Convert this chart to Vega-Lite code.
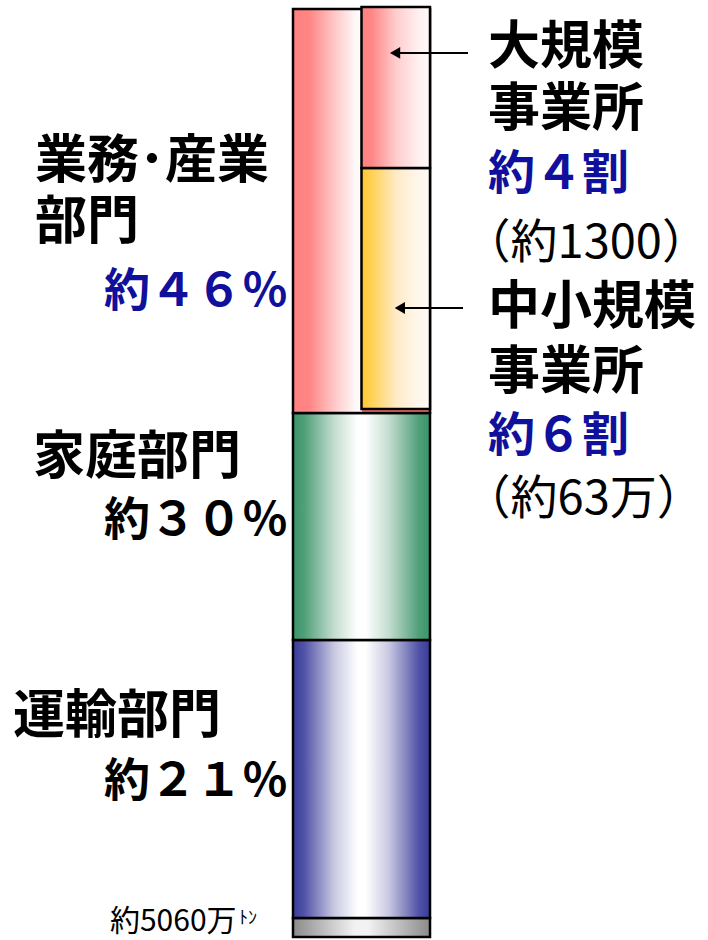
{
  "$schema": "https://vega.github.io/schema/vega-lite/v6.json",
  "width": 708,
  "height": 940,
  "autosize": {"type": "none"},
  "padding": 0,
  "background": "white",
  "config": {"view": {"stroke": null}, "text": {"font": "Noto Sans CJK JP"}},
  "datasets": {
    "segments": [
      {"part": "その他", "xa": 0, "xb": 2, "ya": 0, "yb": 2.05},
      {"part": "運輸部門", "xa": 0, "xb": 2, "ya": 2.05, "yb": 31.97},
      {"part": "家庭部門", "xa": 0, "xb": 2, "ya": 31.97, "yb": 56.4},
      {"part": "業務・産業部門", "xa": 0, "xb": 2, "ya": 56.4, "yb": 99.9},
      {"part": "中小規模事業所", "xa": 1, "xb": 2, "ya": 56.84, "yb": 82.78},
      {"part": "大規模事業所", "xa": 1, "xb": 2, "ya": 82.78, "yb": 100.1}
    ],
    "arrows": [
      {"target": "大規模事業所", "xa": 2.555, "xb": 1.49, "ya": 95.16},
      {"target": "中小規模事業所", "xa": 2.482, "xb": 1.56, "ya": 67.71}
    ],
    "labels": [
      {"kind": "name", "text": "業務･産業", "xa": -3.766, "ya": 83.42},
      {"kind": "name", "text": "部門", "xa": -3.766, "ya": 76.86},
      {"kind": "share_l", "text": "約４６％", "xa": -0.073, "ya": 69.43},
      {"kind": "name", "text": "家庭部門", "xa": -3.796, "ya": 51.56},
      {"kind": "share_l2", "text": "約３０％", "xa": -0.073, "ya": 44.78},
      {"kind": "name", "text": "運輸部門", "xa": -4.088, "ya": 23.68},
      {"kind": "share_l2", "text": "約２１％", "xa": -0.073, "ya": 16.68},
      {"kind": "name", "text": "大規模", "xa": 2.847, "ya": 95.69},
      {"kind": "name", "text": "事業所", "xa": 2.847, "ya": 89.02},
      {"kind": "share_r", "text": "約４割", "xa": 2.847, "ya": 82.02},
      {"kind": "count", "text": "（約1300）", "xa": 2.49, "ya": 74.6},
      {"kind": "name", "text": "中小規模", "xa": 2.847, "ya": 67.71},
      {"kind": "name", "text": "事業所", "xa": 2.847, "ya": 60.71},
      {"kind": "share_r", "text": "約６割", "xa": 2.847, "ya": 53.82},
      {"kind": "count", "text": "（約63万）", "xa": 2.49, "ya": 47.04},
      {"kind": "total", "text": "約5060万", "xa": -2.672, "ya": 1.61},
      {"kind": "unit", "text": "ﾄﾝ", "xa": -0.79, "ya": 1.94}
    ]
  },
  "encoding": {
    "x": {"field": "xa", "type": "quantitative", "scale": {"domain": [-4.277, 6.058], "nice": false, "zero": false}, "axis": null},
    "y": {"field": "ya", "type": "quantitative", "scale": {"domain": [-0.323, 100.86], "nice": false, "zero": false}, "axis": null}
  },
  "layer": [
    {
      "data": {"name": "segments"},
      "transform": [{"filter": "datum.part === 'その他'"}],
      "mark": {"type": "rect", "stroke": "black", "strokeWidth": 2.5,
        "fill": {"gradient": "linear", "x1": 0, "y1": 0, "x2": 1, "y2": 0, "stops": [
          {"offset": 0, "color": "#8a8a8a"}, {"offset": 0.45, "color": "#f2f2f2"}, {"offset": 0.55, "color": "#f2f2f2"}, {"offset": 1, "color": "#8a8a8a"}]}},
      "encoding": {"x2": {"field": "xb"}, "y2": {"field": "yb"}}
    },
    {
      "data": {"name": "segments"},
      "transform": [{"filter": "datum.part === '運輸部門'"}],
      "mark": {"type": "rect", "stroke": "black", "strokeWidth": 2.5,
        "fill": {"gradient": "linear", "x1": 0, "y1": 0, "x2": 1, "y2": 0, "stops": [
          {"offset": 0, "color": "#393c9a"}, {"offset": 0.08, "color": "#5052a6"}, {"offset": 0.3, "color": "#c8c8e2"}, {"offset": 0.47, "color": "#ffffff"}, {"offset": 0.53, "color": "#ffffff"}, {"offset": 0.7, "color": "#c8c8e2"}, {"offset": 0.92, "color": "#5052a6"}, {"offset": 1, "color": "#393c9a"}]}},
      "encoding": {"x2": {"field": "xb"}, "y2": {"field": "yb"}}
    },
    {
      "data": {"name": "segments"},
      "transform": [{"filter": "datum.part === '家庭部門'"}],
      "mark": {"type": "rect", "stroke": "black", "strokeWidth": 2.5,
        "fill": {"gradient": "linear", "x1": 0, "y1": 0, "x2": 1, "y2": 0, "stops": [
          {"offset": 0, "color": "#3a9668"}, {"offset": 0.08, "color": "#4f9f78"}, {"offset": 0.3, "color": "#c3ddcf"}, {"offset": 0.47, "color": "#ffffff"}, {"offset": 0.53, "color": "#ffffff"}, {"offset": 0.7, "color": "#c3ddcf"}, {"offset": 0.92, "color": "#4f9f78"}, {"offset": 1, "color": "#3a9668"}]}},
      "encoding": {"x2": {"field": "xb"}, "y2": {"field": "yb"}}
    },
    {
      "data": {"name": "segments"},
      "transform": [{"filter": "datum.part === '業務・産業部門'"}],
      "mark": {"type": "rect", "stroke": "black", "strokeWidth": 2.5,
        "fill": {"gradient": "linear", "x1": 0, "y1": 0, "x2": 1, "y2": 0, "stops": [
          {"offset": 0, "color": "#ff8080"}, {"offset": 0.12, "color": "#ff8686"}, {"offset": 0.3, "color": "#ffc6c6"}, {"offset": 0.45, "color": "#fff6f6"}, {"offset": 0.5, "color": "#ffffff"}, {"offset": 0.5, "color": "#ff7070"}, {"offset": 1, "color": "#ff7070"}]}},
      "encoding": {"x2": {"field": "xb"}, "y2": {"field": "yb"}}
    },
    {
      "data": {"name": "segments"},
      "transform": [{"filter": "datum.part === '中小規模事業所'"}],
      "mark": {"type": "rect", "stroke": "black", "strokeWidth": 2.5,
        "fill": {"gradient": "linear", "x1": 0, "y1": 0, "x2": 1, "y2": 0, "stops": [
          {"offset": 0, "color": "#ffc830"}, {"offset": 0.15, "color": "#ffd256"}, {"offset": 0.5, "color": "#ffeac4"}, {"offset": 0.8, "color": "#fff6ea"}, {"offset": 1, "color": "#fffaf4"}]}},
      "encoding": {"x2": {"field": "xb"}, "y2": {"field": "yb"}}
    },
    {
      "data": {"name": "segments"},
      "transform": [{"filter": "datum.part === '大規模事業所'"}],
      "mark": {"type": "rect", "stroke": "black", "strokeWidth": 2.5,
        "fill": {"gradient": "linear", "x1": 0, "y1": 0, "x2": 1, "y2": 0, "stops": [
          {"offset": 0, "color": "#ff8080"}, {"offset": 0.15, "color": "#ff8787"}, {"offset": 0.5, "color": "#ffcccc"}, {"offset": 0.85, "color": "#fff2f2"}, {"offset": 1, "color": "#fffafa"}]}},
      "encoding": {"x2": {"field": "xb"}, "y2": {"field": "yb"}}
    },
    {
      "data": {"name": "arrows"},
      "mark": {"type": "rule", "color": "black", "strokeWidth": 2},
      "encoding": {"x2": {"field": "xb"}}
    },
    {
      "data": {"name": "arrows"},
      "mark": {"type": "point", "shape": "triangle-left", "filled": true, "color": "black", "size": 140, "opacity": 1},
      "encoding": {"x": {"field": "xb", "type": "quantitative", "scale": {"domain": [-4.277, 6.058], "nice": false, "zero": false}, "axis": null}}
    },
    {
      "data": {"name": "labels"},
      "transform": [{"filter": "datum.kind === 'name'"}],
      "mark": {"type": "text", "align": "left", "baseline": "middle", "fontSize": 52, "fontWeight": "bold", "color": "black"},
      "encoding": {"text": {"field": "text"}}
    },
    {
      "data": {"name": "labels"},
      "transform": [{"filter": "datum.kind === 'share_l'"}],
      "mark": {"type": "text", "align": "right", "baseline": "middle", "fontSize": 46, "fontWeight": "bold", "color": "#10109c"},
      "encoding": {"text": {"field": "text"}}
    },
    {
      "data": {"name": "labels"},
      "transform": [{"filter": "datum.kind === 'share_l2'"}],
      "mark": {"type": "text", "align": "right", "baseline": "middle", "fontSize": 46, "fontWeight": "bold", "color": "black"},
      "encoding": {"text": {"field": "text"}}
    },
    {
      "data": {"name": "labels"},
      "transform": [{"filter": "datum.kind === 'share_r'"}],
      "mark": {"type": "text", "align": "left", "baseline": "middle", "fontSize": 47, "fontWeight": "bold", "color": "#10109c"},
      "encoding": {"text": {"field": "text"}}
    },
    {
      "data": {"name": "labels"},
      "transform": [{"filter": "datum.kind === 'count'"}],
      "mark": {"type": "text", "align": "left", "baseline": "middle", "fontSize": 47, "fontWeight": "normal", "color": "black"},
      "encoding": {"text": {"field": "text"}}
    },
    {
      "data": {"name": "labels"},
      "transform": [{"filter": "datum.kind === 'total'"}],
      "mark": {"type": "text", "align": "left", "baseline": "middle", "fontSize": 30, "fontWeight": "normal", "color": "black"},
      "encoding": {"text": {"field": "text"}}
    },
    {
      "data": {"name": "labels"},
      "transform": [{"filter": "datum.kind === 'unit'"}],
      "mark": {"type": "text", "align": "left", "baseline": "middle", "fontSize": 18, "fontWeight": "normal", "color": "black"},
      "encoding": {"text": {"field": "text"}}
    }
  ]
}
